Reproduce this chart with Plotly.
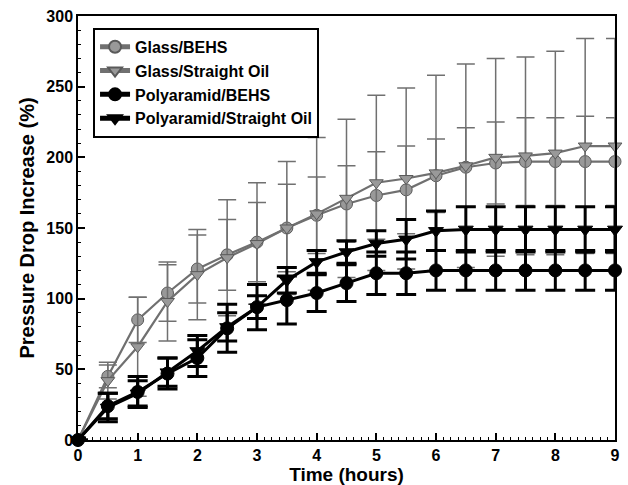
import plotly.graph_objects as go

time_h = [0, 0.5, 1, 1.5, 2, 2.5, 3, 3.5, 4, 4.5, 5, 5.5, 6, 6.5, 7, 7.5, 8, 8.5, 9]

glass_behs = [0, 45, 85, 104, 121, 131, 140, 150, 159, 167, 173, 177, 187, 193, 196, 197, 197, 197, 197]
glass_behs_err = [0, 8, 16, 20, 24, 25, 28, 31, 27, 27, 31, 31, 26, 28, 29, 31, 31, 32, 31]

glass_oil = [0, 42, 66, 98, 117, 129, 139, 150, 160, 171, 182, 185, 189, 194, 200, 201, 203, 208, 208]
glass_oil_err = [0, 13, 35, 28, 32, 41, 43, 47, 54, 56, 62, 64, 69, 72, 70, 70, 72, 76, 76]

poly_behs = [0, 24, 34, 47, 58, 79, 94, 99, 104, 111, 118, 118, 120, 120, 120, 120, 120, 120, 120]
poly_behs_err = [0, 9, 11, 11, 13, 17, 16, 17, 13, 13, 15, 15, 14, 14, 14, 14, 14, 14, 14]

poly_oil = [0, 23, 33, 48, 63, 80, 94, 113, 126, 133, 139, 142, 148, 149, 149, 149, 149, 149, 149]
poly_oil_err = [0, 10, 9, 10, 11, 10, 8, 9, 8, 8, 9, 14, 14, 16, 16, 16, 16, 16, 16]

x_ticks = list(range(0, 10))
y_ticks = list(range(0, 301, 50))

GRAY = "#999999"
GRAY_LINE = "#707070"
BLACK = "#000000"

fig = go.Figure()

def add(name, y, err, color, line_color, symbol, lw, ew, cap, mline, size):
    fig.add_trace(go.Scatter(
        x=time_h, y=y, name=name, mode="lines+markers",
        line=dict(color=line_color, width=lw),
        marker=dict(symbol=symbol, size=size, color=color,
                    line=dict(color=mline, width=1)),
        error_y=dict(type="data", array=err, visible=True,
                     color=line_color, thickness=ew, width=cap),
        cliponaxis=False,
    ))

add("Glass/BEHS", glass_behs, glass_behs_err, GRAY, GRAY_LINE, "circle", 2.2, 1.5, 9, "#5a5a5a", 12)
add("Glass/Straight Oil", glass_oil, glass_oil_err, GRAY, GRAY_LINE, "triangle-down", 2.2, 1.5, 9, "#5a5a5a", 12)
add("Polyaramid/BEHS", poly_behs, poly_behs_err, BLACK, BLACK, "circle", 3, 3, 10, BLACK, 13)
add("Polyaramid/Straight Oil", poly_oil, poly_oil_err, BLACK, BLACK, "triangle-down", 3, 3, 10, BLACK, 13)

font_family = "Arial, Liberation Sans, sans-serif"

fig.update_layout(
    width=628, height=485,
    margin=dict(l=78, r=8, t=16, b=45),
    paper_bgcolor="white", plot_bgcolor="white",
    font=dict(family=font_family, color="black"),
    showlegend=True,
    legend=dict(
        x=0.028, y=0.972, xanchor="left", yanchor="top",
        bgcolor="white", bordercolor="black", borderwidth=2,
        font=dict(size=16, family=font_family, weight="bold"),
        tracegroupgap=0, itemsizing="constant",
    ),
    xaxis=dict(
        range=[0, 9], tickvals=x_ticks, ticktext=[str(v) for v in x_ticks],
        showgrid=False, zeroline=False,
        showline=True, linecolor="black", linewidth=1.5, mirror=True,
        ticks="inside", ticklen=7, tickwidth=1.5, tickcolor="black",
        minor=dict(ticks="inside", dtick=0.125, ticklen=3, tickcolor="black", tickwidth=1),
        tickfont=dict(size=16, family=font_family, weight="bold"),
        title=dict(text="Time (hours)", font=dict(size=19, family=font_family, weight="bold"), standoff=0),
    ),
    yaxis=dict(
        range=[0, 300], tickvals=y_ticks, ticktext=[str(v) for v in y_ticks],
        showgrid=False, zeroline=False,
        showline=True, linecolor="black", linewidth=1.5, mirror=True,
        ticks="inside", ticklen=7, tickwidth=1.5, tickcolor="black",
        minor=dict(ticks="inside", dtick=10, ticklen=3, tickcolor="black", tickwidth=1),
        tickfont=dict(size=16, family=font_family, weight="bold"),
        title=dict(text="Pressure Drop Increase (%)", font=dict(size=20, family=font_family, weight="bold"), standoff=6),
    ),
)

fig.write_html("out.html")
